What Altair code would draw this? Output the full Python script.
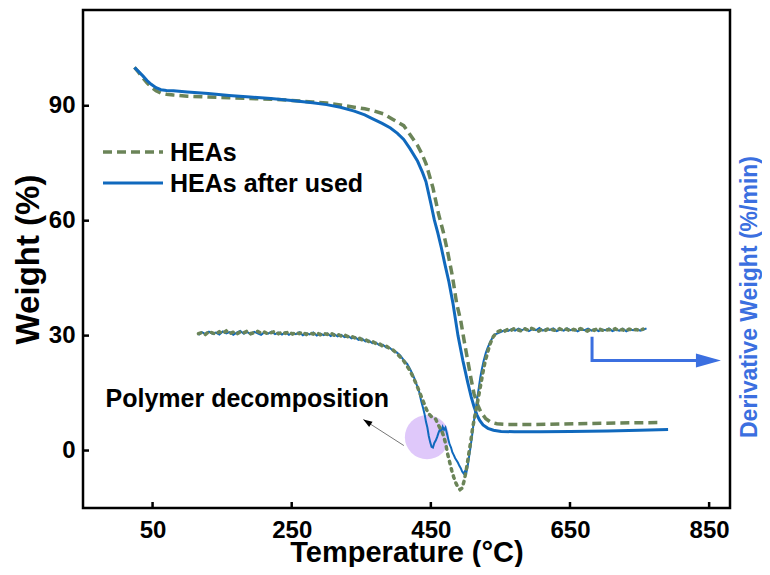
import altair as alt
import pandas as pd

# ---------------- data ----------------
series_names = ["HEAs", "HEAs after used"]

# TGA – HEAs (green dashed)
tga_heas_t = [24, 30, 36, 42, 48, 55, 62, 70, 80, 100, 130, 160, 190, 220, 250, 280, 300, 320, 340,
              355, 365, 382, 395, 411, 420, 431, 437, 443, 453, 461, 468, 474, 481, 487, 493, 498,
              503, 508, 512, 517, 522, 529, 536, 545, 561, 600, 656, 720, 778]
tga_heas_w = [100.0, 98.7, 97.3, 96.0, 94.9, 93.9, 93.3, 93.0, 92.8, 92.5, 92.3, 92.1, 91.9, 91.7,
              91.4, 91.0, 90.7, 90.2, 89.6, 89.2, 88.8, 87.9, 86.5, 84.8, 82.5, 79.6, 77.5, 74.9,
              68.6, 61.8, 57.0, 52.0, 45.5, 38.5, 33.9, 28.5, 23.5, 18.5, 14.9, 12.0, 10.0, 8.3,
              7.4, 7.0, 6.8, 6.8, 7.0, 7.2, 7.3]

# TGA – HEAs after used (blue solid)
tga_used_t = [24, 30, 36, 42, 48, 55, 62, 70, 80, 100, 130, 160, 190, 220, 250, 280, 300, 320, 340,
              355, 365, 380, 392, 402, 411, 420, 431, 438, 443, 450, 455, 460, 465, 470, 476, 482,
              489, 496, 503, 508, 512, 516, 520, 525, 532, 540, 551, 570, 608, 650, 704, 750, 791]
tga_used_w = [100.0, 98.9, 97.8, 96.6, 95.6, 94.7, 94.2, 94.0, 93.9, 93.6, 93.2, 92.7, 92.3, 91.9,
              91.4, 90.8, 90.3, 89.6, 88.6, 87.6, 86.7, 85.4, 84.2, 82.8, 81.2, 78.8, 75.5, 72.6,
              70.2, 64.5, 60.2, 56.8, 53.0, 48.8, 44.0, 38.2, 30.0, 23.5, 17.8, 14.0, 11.5, 9.4,
              7.9, 6.7, 5.8, 5.3, 5.0, 4.9, 4.9, 5.0, 5.1, 5.3, 5.5]

# DTG – HEAs after used (blue, noisy)
dtg_used_t = [116, 121, 126, 131, 136, 141, 146, 151, 156, 161, 166, 171, 176, 181, 186, 191, 196,
              201, 206, 211, 216, 221, 226, 231, 236, 241, 246, 251, 256, 261, 266, 271, 276, 281,
              286, 291, 296, 301, 306, 311, 316, 321, 326, 331, 336, 341, 346, 351, 356, 361, 366,
              371, 376, 381, 386, 391, 396, 401, 406, 411, 416, 421, 426, 430, 433, 436, 439, 441,
              443, 445, 447, 449, 451, 453, 455, 457, 459, 461, 463, 465, 467, 469, 471, 473, 475,
              477, 479, 481, 483, 485, 487, 489, 491, 493, 495, 497, 499, 501, 503, 505, 507, 509,
              511, 513, 515, 517, 519, 521, 523, 526, 529, 532, 536, 541, 546, 551, 556, 561, 566,
              571, 576, 581, 586, 591, 596, 601, 606, 611, 616, 621, 626, 631, 636, 641, 646, 651,
              656, 661, 666, 671, 676, 681, 686, 691, 696, 701, 706, 711, 716, 721, 726, 731, 736,
              741, 746, 751, 756, 760]
dtg_used_w = [30.2, 30.9, 30.4, 31.0, 30.5, 30.8, 30.3, 31.1, 30.6, 30.9, 30.2, 30.8, 31.2, 30.5,
              30.9, 30.4, 31.0, 30.6, 30.2, 30.9, 30.5, 31.0, 30.4, 30.8, 30.3, 30.9, 30.2, 30.7,
              30.4, 30.9, 30.1, 30.6, 30.3, 30.8, 30.0, 30.5, 30.1, 30.6, 29.9, 30.4, 29.8, 30.2,
              29.6, 29.9, 29.3, 29.6, 28.9, 29.2, 28.5, 28.7, 28.0, 28.2, 27.5, 27.6, 26.9, 26.8,
              26.0, 25.6, 24.8, 23.6, 22.6, 21.0, 19.0, 17.0, 15.5, 13.0, 11.0, 9.5, 7.5, 6.0, 3.8,
              2.2, 1.0, 0.8, 2.0, 2.6, 3.5, 4.6, 5.5, 5.0, 6.2, 5.4, 6.0, 4.5, 3.0, 1.6, 0.8, -0.5,
              -1.2, -2.0, -2.6, -3.2, -4.0, -4.6, -5.5, -6.0, -5.4, -5.8, -4.0, -1.5, 0.8, 3.5, 6.5,
              9.0, 11.2, 14.0, 16.5, 19.0, 21.0, 23.5, 25.5, 27.0, 28.6, 30.2, 30.6, 31.0, 31.4,
              31.2, 31.7, 31.3, 31.8, 31.4, 31.9, 31.2, 31.7, 31.4, 32.0, 31.3, 31.8, 31.5, 31.9,
              31.2, 31.6, 31.3, 31.9, 31.4, 31.7, 31.1, 31.6, 31.4, 31.8, 31.3, 31.7, 31.2, 31.6,
              31.4, 31.9, 31.2, 31.5, 31.3, 31.8, 31.1, 31.6, 31.4, 31.7, 31.3, 31.6, 31.9]

# DTG – HEAs (green dotted, noisy)
dtg_heas_t = [116, 121, 126, 131, 136, 141, 146, 151, 156, 161, 166, 171, 176, 181, 186, 191, 196,
              201, 206, 211, 216, 221, 226, 231, 236, 241, 246, 251, 256, 261, 266, 271, 276, 281,
              286, 291, 296, 301, 306, 311, 316, 321, 326, 331, 336, 341, 346, 351, 356, 361, 366,
              371, 376, 381, 386, 391, 396, 401, 406, 411, 416, 421, 426, 431, 436, 440, 444, 448,
              451, 454, 457, 460, 463, 466, 469, 472, 474, 477, 480, 483, 486, 489, 492, 495, 498,
              501, 504, 507, 510, 513, 516, 519, 522, 525, 528, 531, 535, 540, 545, 550, 555, 560,
              565, 570, 575, 580, 585, 590, 595, 600, 605, 610, 615, 620, 625, 630, 635, 640, 645,
              650, 655, 660, 665, 670, 675, 680, 685, 690, 695, 700, 705, 710, 715, 720, 725, 730,
              735, 740, 745, 750, 755]
dtg_heas_w = [30.5, 30.8, 30.3, 31.1, 30.7, 30.4, 31.0, 30.6, 31.2, 30.5, 30.9, 30.4, 31.0, 30.7,
              31.2, 30.5, 30.8, 31.1, 30.6, 30.9, 30.4, 30.8, 31.1, 30.5, 30.9, 30.6, 31.0, 30.4,
              30.8, 30.5, 30.9, 30.3, 30.7, 30.4, 30.8, 30.2, 30.6, 30.3, 30.7, 30.1, 30.4, 29.9,
              30.2, 29.7, 29.8, 29.4, 29.5, 28.9, 29.0, 28.4, 28.5, 27.9, 27.9, 27.2, 27.3, 26.6,
              26.2, 25.4, 24.4, 23.4, 22.0, 20.5, 18.6, 16.5, 14.2, 12.4, 10.6, 9.4, 8.8, 8.6, 8.2,
              7.0, 5.9, 5.0, 3.4, 1.2, -0.8, -3.0, -5.2, -7.0, -8.5, -9.6, -10.2, -9.8, -7.8, -5.0,
              -1.5, 2.0, 5.8, 8.8, 11.5, 14.5, 17.5, 20.5, 23.2, 25.2, 27.8, 29.8, 30.9, 31.3, 31.0,
              31.6, 31.3, 31.9, 31.5, 31.2, 31.8, 31.4, 31.9, 31.5, 31.2, 31.7, 31.4, 31.9, 31.5,
              31.3, 31.8, 31.4, 31.7, 31.2, 31.6, 31.3, 31.8, 31.5, 31.2, 31.7, 31.4, 31.9, 31.5,
              31.2, 31.6, 31.4, 31.8, 31.3, 31.6, 31.2, 31.7, 31.4, 31.6, 31.3, 31.7]

x_ticks = [50, 250, 450, 650, 850]
y_ticks = [0, 30, 60, 90]
x_domain = [-50, 880]
y_domain = [-15, 115]

# annotations (data space)
note_text = ["Polymer decomposition"]
note_pos = [-17.6, 11.3]
circle_pos = [444.5, 3.5]
gray_arrow_t = [411.2, 352.9]
gray_arrow_w = [1.3, 8.1]
blue_arrow_t = [681.7, 681.7, 852.0]
blue_arrow_w = [29.7, 23.5, 23.5]
blue_tip = [867.0, 23.5]

# ---------------- styling ----------------
W, H = 647, 498
BLUE = "#1069bd"
GREEN = "#6b8458"
ARROW_BLUE = "#3b6fe0"
FONT = "Liberation Sans"

xs = alt.Scale(domain=x_domain, nice=False, zero=False)
ys = alt.Scale(domain=y_domain, nice=False, zero=False)

xaxis = alt.Axis(values=x_ticks, title="Temperature (°C)", ticks=False, domain=False, grid=False,
                 labelFontSize=24, labelFontWeight="bold", labelColor="black", labelPadding=10,
                 labelFont=FONT, titleFont=FONT, titleFontSize=29, titleFontWeight="bold",
                 titleColor="black", titleY=53, titleBaseline="alphabetic")
yaxis = alt.Axis(values=y_ticks, title="Weight (%)", ticks=False, domain=False, grid=False,
                 labelFontSize=24, labelFontWeight="bold", labelColor="black", labelPadding=8,
                 labelFont=FONT, titleFont=FONT, titleFontSize=33, titleFontWeight="bold",
                 titleColor="black", titleX=-55, titleY=249, titleAngle=270,
                 titleAlign="center", titleBaseline="middle")

X = lambda f="T": alt.X(f"{f}:Q", scale=xs, axis=xaxis)
Y = lambda f="W": alt.Y(f"{f}:Q", scale=ys, axis=yaxis)


def df(t, w):
    return pd.DataFrame({"T": t, "W": w})


circle = alt.Chart(df([circle_pos[0]], [circle_pos[1]])).mark_point(
    shape="circle", filled=True, size=1963, color="#dfc8fa", opacity=1).encode(x=X(), y=Y())

tga_heas = alt.Chart(df(tga_heas_t, tga_heas_w)).mark_line(
    color=GREEN, strokeWidth=3.5, strokeDash=[9, 5]).encode(x=X(), y=Y())
tga_used = alt.Chart(df(tga_used_t, tga_used_w)).mark_line(
    color=BLUE, strokeWidth=3).encode(x=X(), y=Y())
dtg_used = alt.Chart(df(dtg_used_t, dtg_used_w)).mark_line(
    color=BLUE, strokeWidth=2).encode(x=X(), y=Y())
dtg_heas = alt.Chart(df(dtg_heas_t, dtg_heas_w)).mark_line(
    color=GREEN, strokeWidth=3.5, strokeDash=[2.5, 5], strokeCap="round").encode(x=X(), y=Y())

note = alt.Chart(pd.DataFrame({"T": [note_pos[0]], "W": [note_pos[1]], "txt": note_text})).mark_text(
    font=FONT, fontSize=25, fontWeight="bold", color="black", align="left",
    baseline="alphabetic").encode(x=X(), y=Y(), text="txt:N")

gray_line = alt.Chart(pd.DataFrame({"T": gray_arrow_t, "W": gray_arrow_w, "i": [0, 1]})).mark_line(
    color="#777777", strokeWidth=1).encode(x=X(), y=Y(), order="i:O")
gray_head = alt.Chart(df([gray_arrow_t[1]], [gray_arrow_w[1]])).mark_point(
    shape="M0,0L0.7,2L-0.7,2Z", filled=True, size=81, angle=303, color="black",
    opacity=1).encode(x=X(), y=Y())

blue_line = alt.Chart(pd.DataFrame({"T": blue_arrow_t, "W": blue_arrow_w, "i": [0, 1, 2]})).mark_line(
    color=ARROW_BLUE, strokeWidth=3).encode(x=X(), y=Y(), order="i:O")
blue_head = alt.Chart(df([blue_tip[0]], [blue_tip[1]])).mark_point(
    shape="M0,0L-2,-0.56L-2,0.56Z", filled=True, size=625, color=ARROW_BLUE,
    opacity=1).encode(x=X(), y=Y())

# inward ticks
xt = alt.Chart(pd.DataFrame({"T": x_ticks})).mark_rule(color="black", strokeWidth=2.5).encode(
    x=X(), y=alt.value(H), y2=alt.value(H - 6))
yt = alt.Chart(pd.DataFrame({"W": y_ticks})).mark_rule(color="black", strokeWidth=2.5).encode(
    y=Y(), x=alt.value(0), x2=alt.value(6))

# legend (manual)
leg_df = pd.DataFrame({"name": series_names})
leg_green = alt.Chart(leg_df.iloc[[0]]).mark_rule(color=GREEN, strokeWidth=3.5, strokeDash=[9, 5]).encode(
    x=alt.value(20), x2=alt.value(80), y=alt.value(142))
leg_blue = alt.Chart(leg_df.iloc[[1]]).mark_rule(color=BLUE, strokeWidth=3).encode(
    x=alt.value(20), x2=alt.value(80), y=alt.value(173))
leg_t1 = alt.Chart(leg_df.iloc[[0]]).mark_text(font=FONT, fontSize=25, fontWeight="bold", color="black",
                                                align="left", baseline="middle").encode(
    x=alt.value(87), y=alt.value(143), text="name:N")
leg_t2 = alt.Chart(leg_df.iloc[[1]]).mark_text(font=FONT, fontSize=25, fontWeight="bold", color="black",
                                                align="left", baseline="middle").encode(
    x=alt.value(87), y=alt.value(174), text="name:N")

right_title = alt.Chart(pd.DataFrame({"txt": ["Derivative Weight (%/min)"]})).mark_text(
    font=FONT, fontSize=23, fontWeight="bold", color=ARROW_BLUE, angle=270, align="center",
    baseline="middle").encode(x=alt.value(667), y=alt.value(287), text="txt:N")

chart = alt.layer(
    circle, tga_heas, tga_used, dtg_used, dtg_heas, gray_line, gray_head, note,
    blue_line, blue_head, xt, yt, leg_green, leg_blue, leg_t1, leg_t2, right_title
).properties(
    width=W, height=H,
    autosize=alt.AutoSizeParams(type="none"),
    padding={"left": 75, "top": 2, "right": 32, "bottom": 59},
    background="white",
).configure_view(stroke="black", strokeWidth=2.5)

chart.save("out.html", embed_options={"renderer": "svg", "actions": False})
